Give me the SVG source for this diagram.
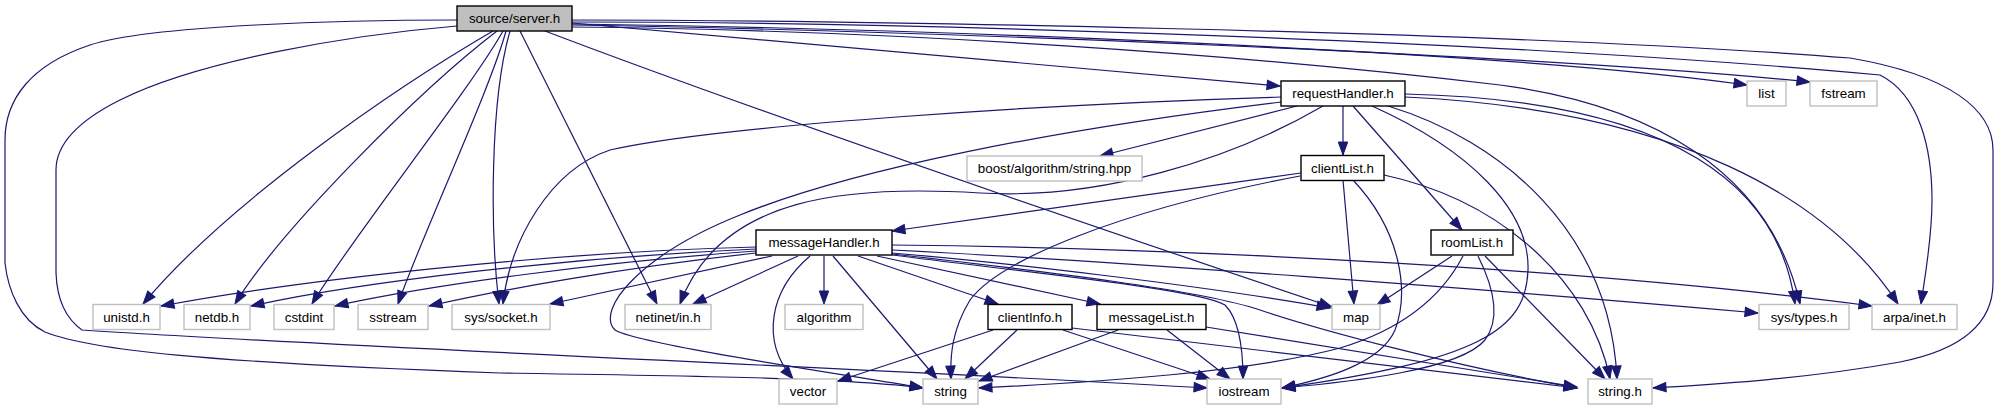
<svg xmlns="http://www.w3.org/2000/svg" width="2001" height="411" viewBox="0 0 2001 411">
<style>
.e{fill:none;stroke:#191970;stroke-width:1.2;marker-end:url(#arr)}
.ext rect{fill:#ffffff;stroke:#bfbfbf;stroke-width:1.4}
.int rect{fill:#ffffff;stroke:#000000;stroke-width:1.4}
.root rect{fill:#bfbfbf;stroke:#000000;stroke-width:1.4}
text{font-family:"Liberation Sans",Arial,Helvetica,sans-serif;font-size:13.33px;text-anchor:middle;fill:#000000}
</style>
<defs>
<marker id="arr" markerUnits="userSpaceOnUse" markerWidth="14" markerHeight="11" refX="13" refY="4.7" orient="auto" overflow="visible">
<path d="M0,0 L13,4.7 L0,9.4 Z" fill="#191970" stroke="#191970" stroke-width="1"/>
</marker>
</defs>
<rect x="0" y="0" width="2001" height="411" fill="#ffffff"/>
<g id="edges">
<path class="e" d="M493,31 C400,85 230,200 143,304"/>
<path class="e" d="M497,31 C420,90 280,230 235,304"/>
<path class="e" d="M503,31 C470,90 350,240 312,304"/>
<path class="e" d="M506,31 C490,90 420,240 398,304"/>
<path class="e" d="M510,31 C490,100 490,230 499,304"/>
<path class="e" d="M520,31 L657,304"/>
<path class="e" d="M545,31 C700,90 1000,195 1332,307"/>
<path class="e" d="M572,23 L1280,86"/>
<path class="e" d="M572,24 C900,28 1500,50 1747,85"/>
<path class="e" d="M572,25 C900,30 1550,55 1810,82"/>
<path class="e" d="M572,27 C900,30 1250,55 1500,85 C1650,105 1770,170 1800,304"/>
<path class="e" d="M572,22 C900,22 1500,40 1880,75 C1920,95 1932,150 1932,200 C1932,240 1925,275 1921,304"/>
<path class="e" d="M572,20 C800,20 1500,30 1850,58 C1950,75 1993,110 1993,150 L1993,283 C1993,330 1950,352 1900,362 C1800,380 1700,385 1653,388"/>
<path class="e" d="M457,20 C350,20 150,25 90,45 C30,65 5,100 5,140 L5,263 C8,290 20,320 45,332 C90,350 200,362 500,373 C700,376 850,378 923,388"/>
<path class="e" d="M457,26 C350,35 200,60 120,100 C70,125 56,150 56,170 L56,273 C57,300 65,318 82,330 C300,345 900,370 1207,388"/>
<path class="e" d="M1343,106 L1343,155"/>
<path class="e" d="M1353,106 L1462,230"/>
<path class="e" d="M1297,106 L1100,156"/>
<path class="e" d="M1281,97 C1050,104 720,125 610,150 C550,170 510,240 503,304"/>
<path class="e" d="M1281,102 C1050,130 850,170 740,215 C640,255 595,310 615,330 C640,345 850,375 923,388"/>
<path class="e" d="M1323,106 C1230,160 1100,200 980,193 C850,185 720,195 680,304"/>
<path class="e" d="M1372,106 C1470,150 1530,210 1528,270 C1526,330 1480,360 1282,388"/>
<path class="e" d="M1388,106 C1500,140 1610,230 1617,379"/>
<path class="e" d="M1405,94 C1680,100 1780,190 1795,304"/>
<path class="e" d="M1405,97 C1680,110 1830,200 1898,304"/>
<path class="e" d="M1301,173 L892,231"/>
<path class="e" d="M1300,176 C1120,210 1000,260 970,300 C952,330 950,355 951,379"/>
<path class="e" d="M1343,180 L1354,304"/>
<path class="e" d="M1353,180 C1400,230 1410,290 1395,330 C1380,365 1320,380 1282,388"/>
<path class="e" d="M1384,175 C1500,200 1590,280 1610,379"/>
<path class="e" d="M756,247 C550,252 300,280 161,306"/>
<path class="e" d="M756,249 C560,258 360,282 251,306"/>
<path class="e" d="M756,251 C600,262 430,285 335,306"/>
<path class="e" d="M756,253 C620,268 500,290 429,306"/>
<path class="e" d="M772,256 L550,304"/>
<path class="e" d="M798,256 L693,304"/>
<path class="e" d="M824,256 L824,304"/>
<path class="e" d="M810,256 C770,290 760,340 793,379"/>
<path class="e" d="M833,256 L937,379"/>
<path class="e" d="M858,256 L998,304"/>
<path class="e" d="M877,256 L1100,304"/>
<path class="e" d="M892,253 C1000,262 1200,285 1330,308"/>
<path class="e" d="M892,255 C1050,275 1200,290 1225,305 C1240,320 1243,350 1243,379"/>
<path class="e" d="M892,254 C1050,272 1200,290 1260,310 C1320,330 1450,365 1577,388"/>
<path class="e" d="M892,250 C1100,260 1500,290 1758,313"/>
<path class="e" d="M892,245 C1200,248 1600,270 1872,306"/>
<path class="e" d="M993,330 L838,381"/>
<path class="e" d="M1017,330 L965,379"/>
<path class="e" d="M1063,330 L1210,379"/>
<path class="e" d="M1072,328 L1577,388"/>
<path class="e" d="M1118,330 L979,381"/>
<path class="e" d="M1167,330 L1230,379"/>
<path class="e" d="M1206,327 L1577,387"/>
<path class="e" d="M1452,256 L1377,305"/>
<path class="e" d="M1463,256 C1440,300 1400,330 1340,348 C1250,372 1100,382 979,388"/>
<path class="e" d="M1478,256 C1495,290 1500,320 1485,340 C1460,370 1350,382 1282,388"/>
<path class="e" d="M1485,256 L1605,379"/>
</g>
<g id="n_server" class="root"><rect x="457" y="6" width="115" height="25"/><text x="514.5" y="23">source/server.h</text></g>
<g id="n_requestHandler" class="int"><rect x="1281" y="81" width="124" height="25"/><text x="1343" y="98">requestHandler.h</text></g>
<g id="n_list" class="ext"><rect x="1747" y="81" width="39" height="25"/><text x="1766.5" y="98">list</text></g>
<g id="n_fstream" class="ext"><rect x="1810" y="81" width="67" height="25"/><text x="1843.5" y="98">fstream</text></g>
<g id="n_boost" class="ext"><rect x="967" y="156" width="175" height="25"/><text x="1054.5" y="173">boost/algorithm/string.hpp</text></g>
<g id="n_clientList" class="int"><rect x="1301" y="155.5" width="83" height="25"/><text x="1342.5" y="172.5">clientList.h</text></g>
<g id="n_messageHandler" class="int"><rect x="756" y="230" width="136" height="25"/><text x="824" y="247">messageHandler.h</text></g>
<g id="n_roomList" class="int"><rect x="1431" y="230" width="82" height="25"/><text x="1472" y="247">roomList.h</text></g>
<g id="n_unistd" class="ext"><rect x="93" y="304.5" width="67" height="25"/><text x="126.5" y="321.5">unistd.h</text></g>
<g id="n_netdb" class="ext"><rect x="184" y="304.5" width="66" height="25"/><text x="217" y="321.5">netdb.h</text></g>
<g id="n_cstdint" class="ext"><rect x="274" y="304.5" width="60" height="25"/><text x="304" y="321.5">cstdint</text></g>
<g id="n_sstream" class="ext"><rect x="358" y="304.5" width="70" height="25"/><text x="393" y="321.5">sstream</text></g>
<g id="n_syssocket" class="ext"><rect x="452" y="304.5" width="98" height="25"/><text x="501" y="321.5">sys/socket.h</text></g>
<g id="n_netinet" class="ext"><rect x="625" y="304.5" width="86" height="25"/><text x="668" y="321.5">netinet/in.h</text></g>
<g id="n_algorithm" class="ext"><rect x="785" y="304.5" width="78" height="25"/><text x="824" y="321.5">algorithm</text></g>
<g id="n_clientInfo" class="int"><rect x="988" y="304.5" width="84" height="25"/><text x="1030" y="321.5">clientInfo.h</text></g>
<g id="n_messageList" class="int"><rect x="1097" y="304.5" width="109" height="25"/><text x="1151.5" y="321.5">messageList.h</text></g>
<g id="n_map" class="ext"><rect x="1332" y="304.5" width="48" height="25"/><text x="1356" y="321.5">map</text></g>
<g id="n_systypes" class="ext"><rect x="1759" y="304.5" width="90" height="25"/><text x="1804" y="321.5">sys/types.h</text></g>
<g id="n_arpainet" class="ext"><rect x="1872" y="304.5" width="85" height="25"/><text x="1914.5" y="321.5">arpa/inet.h</text></g>
<g id="n_vector" class="ext"><rect x="779" y="379" width="58" height="25"/><text x="808" y="396">vector</text></g>
<g id="n_string" class="ext"><rect x="923" y="379" width="55" height="25"/><text x="950.5" y="396">string</text></g>
<g id="n_iostream" class="ext"><rect x="1207" y="379" width="74" height="25"/><text x="1244" y="396">iostream</text></g>
<g id="n_stringh" class="ext"><rect x="1588" y="379" width="64" height="25"/><text x="1620" y="396">string.h</text></g>
</svg>
